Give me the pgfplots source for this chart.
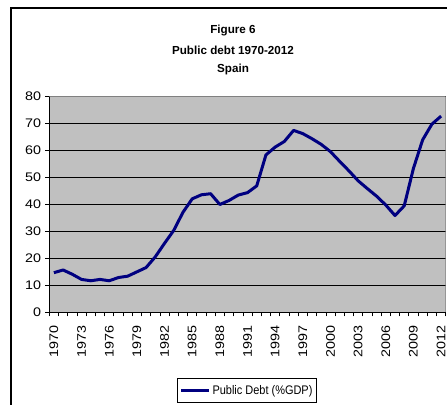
\documentclass[border=0pt]{standalone}
\usepackage{fontspec}
\setmainfont{Liberation Sans}
\newfontfamily\ytickfont[FakeStretch=1.15]{Liberation Sans}
\newfontfamily\xtickfont[FakeStretch=1.15]{Liberation Sans}
\newfontfamily\legfont[FakeStretch=0.88]{Liberation Sans}
\usepackage{pgfplots}
\usepackage{pgfplotstable}
\pgfplotsset{compat=1.18}

\definecolor{debtblue}{HTML}{000080}
\definecolor{plotgray}{HTML}{C0C0C0}
\definecolor{framegray}{HTML}{808080}

% Public debt of Spain, % of GDP
\pgfplotstableread{
year debt
1970 14.7
1971 15.7
1972 14.1
1973 12.2
1974 11.7
1975 12.2
1976 11.7
1977 12.9
1978 13.4
1979 15.0
1980 16.6
1981 20.6
1982 25.6
1983 30.4
1984 37.1
1985 42.1
1986 43.6
1987 44.0
1988 40.0
1989 41.5
1990 43.5
1991 44.4
1992 46.9
1993 58.4
1994 61.3
1995 63.4
1996 67.5
1997 66.3
1998 64.4
1999 62.3
2000 59.6
2001 56.0
2002 52.5
2003 48.8
2004 45.9
2005 43.1
2006 39.8
2007 35.9
2008 39.5
2009 53.4
2010 64.0
2011 69.8
2012 72.8
}\debttable

\begin{document}
\begin{tikzpicture}
\useasboundingbox (0,0) rectangle (447bp,405bp);
% chart frame
\draw[line width=1.5bp] (11bp,-10bp) -- (11bp,397bp) -- (470bp,397bp);
% title
\begin{scope}[every node/.style={anchor=base, font=\bfseries\fontsize{11.7}{14}\selectfont, inner sep=0pt}]
\node at (233bp,371.7bp) {Figure 6};
\node at (233bp,350bp) {Public debt 1970-2012};
\node at (233bp,332.3bp) {Spain};
\end{scope}
\begin{axis}[
  at={(49.3bp,92.7bp)}, anchor=south west,
  scale only axis, width=396.4bp, height=215.6bp,
  xmin=-0.5, xmax=42.5, ymin=0, ymax=80,
  axis lines*=left,
  axis line style={black, line width=0.8bp},
  axis background/.style={fill=plotgray},
  /pgf/number format/assume math mode=true,
  ytick={0,10,...,80},
  ymajorgrids,
  grid style={black, line width=0.7bp},
  xtick={-0.5,0.5,...,42.5},
  xticklabels={},
  extra x ticks={0,3,...,42},
  extra x tick labels={1970,1973,1976,1979,1982,1985,1988,1991,1994,1997,2000,2003,2006,2009,2012},
  extra x tick style={major tick length=0pt,
    xticklabel style={yshift=-13bp, rotate=90, anchor=east, inner sep=0pt,
      font=\xtickfont\fontsize{12.5}{14}\selectfont}},
  tick align=outside,
  major tick length=4bp,
  tick style={black, line width=0.7bp},
  yticklabel style={font=\ytickfont\fontsize{12.5}{14}\selectfont, inner sep=0pt, xshift=-4bp},
  legend style={at={(0.4987,-0.306)}, anchor=north, draw=black, line width=0.8bp,
    font=\legfont\fontsize{12.5}{14}\selectfont, inner xsep=2bp, inner ysep=4.5bp},
  legend image code/.code={\draw[#1] (0bp,0bp) -- (28bp,0bp);},
]
\addplot[debtblue, line width=3bp, line join=round] table[x expr=\coordindex, y=debt] {\debttable};
\addlegendentry{Public Debt (\%GDP)}
\draw[framegray, line width=0.8bp] (rel axis cs:0,1) -- (rel axis cs:1,1) -- (rel axis cs:1,0);
\end{axis}
\end{tikzpicture}
\end{document}
